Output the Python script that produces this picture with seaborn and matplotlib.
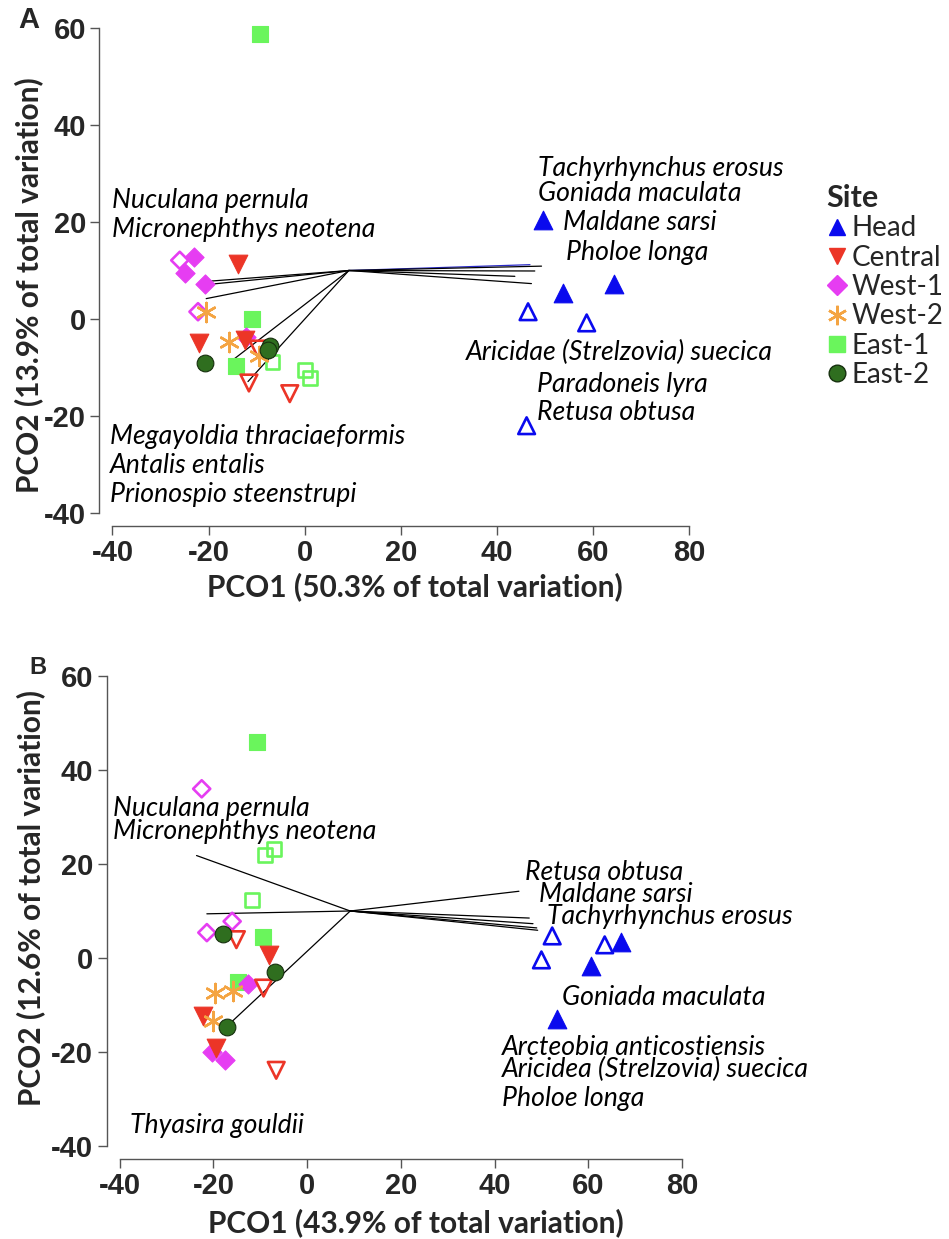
import matplotlib
matplotlib.use("Agg")
import matplotlib.pyplot as plt
import pandas as pd
import seaborn as sns
from matplotlib.lines import Line2D

sns.set_theme(style="ticks")
plt.rcParams["font.family"] = ["Liberation Sans", "DejaVu Sans"]

# ---------------------------------------------------------------- data
sites = ["Head", "Central", "West-1", "West-2", "East-1", "East-2"]

# Panel A: PCO scores per sample (filled = first survey, open = second survey)
a_site = (["Head"] * 6 + ["Central"] * 6 + ["West-1"] * 6 + ["West-2"] * 3
          + ["East-1"] * 6 + ["East-2"] * 3)
a_pco1 = [49.7, 53.7, 64.4, 46.5, 58.7, 46.2,
          -13.9, -21.9, -12.5, -9.7, -11.6, -3.1,
          -23.1, -25.0, -20.8, -12.2, -26.0, -22.2,
          -20.5, -15.8, -9.5,
          -9.4, -10.9, -14.2, -6.7, 0.0, 1.2,
          -7.3, -7.6, -20.8]
a_pco2 = [20.5, 5.4, 7.3, 1.5, -0.8, -22.0,
          11.4, -5.0, -4.3, -6.2, -13.2, -15.4,
          12.7, 9.4, 7.3, -3.8, 12.1, 1.5,
          1.5, -4.7, -7.7,
          58.7, 0.1, -9.7, -8.8, -10.6, -12.2,
          -5.5, -6.4, -9.1]
a_filled = ([1, 1, 1, 0, 0, 0] + [1, 1, 1, 0, 0, 0] + [1, 1, 1, 1, 0, 0]
            + [1, 1, 1] + [1, 1, 1, 0, 0, 0] + [1, 1, 1])

# Panel B: PCO scores per sample
b_site = a_site
b_pco1 = [66.9, 60.5, 53.4, 52.3, 63.5, 50.0,
          -8.2, -22.2, -19.5, -15.1, -9.3, -6.6,
          -12.6, -20.4, -17.6, -22.5, -16.0, -21.4,
          -19.7, -15.9, -20.0,
          -10.8, -9.5, -14.7, -7.1, -8.9, -11.7,
          -17.9, -6.9, -17.2]
b_pco2 = [3.3, -1.8, -13.0, 4.7, 2.8, -0.4,
          0.7, -12.4, -19.1, 3.9, -6.4, -23.9,
          -5.5, -19.9, -21.6, 36.0, 7.8, 5.4,
          -7.4, -7.1, -13.5,
          45.9, 4.5, -5.0, 23.2, 22.0, 12.3,
          5.2, -3.0, -14.6]
b_filled = ([1, 1, 1, 0, 0, 0] + [1, 1, 1, 0, 0, 0] + [1, 1, 1, 0, 0, 0]
            + [1, 1, 1] + [1, 1, 1, 0, 0, 0] + [1, 1, 1])

# Species correlation vectors (end points), drawn from a common origin
vec_origin = (9.2, 10.0)
a_vec_x = [-19.8, -20.3, -20.5, -14.9, -11.8, 46.9, 49.3, 47.9, 43.75, 47.2]
a_vec_y = [7.8, 7.1, 4.2, -8.4, -12.9, 11.2, 10.9, 9.9, 8.8, 7.3]
b_vec_x = [-23.6, -21.4, -17.2, 45.2, 47.4, 48.2, 49.0, 49.2]
b_vec_y = [21.8, 9.4, -14.6, 14.2, 8.5, 7.3, 6.4, 5.9]

# Species names and where they are written
a_species = ["Nuculana pernula", "Micronephthys neotena",
             "Megayoldia thraciaeformis", "Antalis entalis", "Prionospio steenstrupi",
             "Tachyrhynchus erosus", "Goniada maculata", "Maldane sarsi", "Pholoe longa",
             "Aricidae (Strelzovia) suecica", "Paradoneis lyra", "Retusa obtusa"]
a_species_xy = [(-40.2, 24.4), (-40.2, 18.5),
                (-40.6, -24.2), (-40.6, -30.2), (-40.6, -36.1),
                (48.5, 31.0), (48.5, 25.9), (53.75, 19.9), (54.4, 13.8),
                (33.5, -7.0), (48.3, -13.6), (48.3, -19.3)]
b_species = ["Nuculana pernula", "Micronephthys neotena",
             "Retusa obtusa", "Maldane sarsi", "Tachyrhynchus erosus",
             "Goniada maculata", "Arcteobia anticostiensis",
             "Aricidea (Strelzovia) suecica", "Pholoe longa", "Thyasira gouldii"]
b_species_xy = [(-41.4, 31.9), (-41.4, 26.9),
                (46.5, 18.2), (49.5, 13.5), (51.2, 8.9),
                (54.3, -8.5), (41.5, -19.1),
                (41.5, -23.8), (41.5, -29.8), (-37.8, -35.7)]

x_ticks = [-40, -20, 0, 20, 40, 60, 80]
y_ticks = [-40, -20, 0, 20, 40, 60]

# ---------------------------------------------------------------- styles
site_colors = {"Head": "#0a0aee", "Central": "#ec3527", "West-1": "#e63df2",
               "West-2": "#f4a442", "East-1": "#6af55c", "East-2": "#2f6e1f"}
site_markers = {"Head": "^", "Central": "v", "West-1": "D", "West-2": (6, 2, 0),
                "East-1": "s", "East-2": "o"}
site_sizes = {"Head": 180, "Central": 180, "West-1": 95, "West-2": 190,
              "East-1": 125, "East-2": 145}
draw_order = ["East-1", "West-1", "Central", "West-2", "East-2", "Head"]

ITALIC = dict(family="Lato", style="italic", size=19.2, color="black")
AXLAB = dict(family="Lato", weight="bold", size=21.5)


def scores_frame(site, pco1, pco2, filled):
    return pd.DataFrame({"site": site, "pco1": pco1, "pco2": pco2,
                         "filled": [bool(f) for f in filled]})


def draw_panel(ax, df, vx, vy, names, name_xy, xlabel, ylabel, tint_first_right=False):
    ox, oy = vec_origin
    n_left = sum(1 for v in vx if v < ox)
    for i, (ex, ey) in enumerate(zip(vx, vy)):
        col = "#2a2ac8" if (tint_first_right and i == n_left) else "black"
        ax.plot([ox, ex], [oy, ey], color=col, lw=0.9, zorder=2)

    for site in draw_order:
        for filled in (True, False):
            sub = df[(df["site"] == site) & (df["filled"] == filled)]
            if sub.empty:
                continue
            col = site_colors[site]
            kw = dict(data=sub, x="pco1", y="pco2", ax=ax, marker=site_markers[site],
                      s=site_sizes[site], legend=False, zorder=3, clip_on=False)
            if site == "West-2":
                sns.scatterplot(color=col, linewidth=1.8, **kw)
            elif filled:
                edge = "#16300e" if site == "East-2" else col
                sns.scatterplot(color=col, edgecolor=edge, linewidth=0.8, **kw)
            else:
                sns.scatterplot(color=col, linewidth=1.9,
                                **{**kw, "s": site_sizes[site] * 0.8})
                coll = ax.collections[-1]
                coll.set_facecolor("none")
                coll.set_edgecolor(col)

    for name, (tx, ty) in zip(names, name_xy):
        ax.text(tx, ty, name, ha="left", va="center", clip_on=False, zorder=4, **ITALIC)

    ax.set_xlim(-40, 80)
    ax.set_ylim(-40, 60)
    ax.set_xticks(x_ticks)
    ax.set_yticks(y_ticks)
    sns.despine(ax=ax, offset=9.5, trim=True)
    ax.set_xticks(x_ticks)
    ax.set_yticks(y_ticks)
    ax.set_xticklabels([str(t) for t in x_ticks], fontweight="bold",
                       family="Liberation Sans", fontsize=21)
    ax.set_yticklabels([str(t) for t in y_ticks], fontweight="bold",
                       family="Liberation Sans", fontsize=21)
    ax.tick_params(axis="both", which="major", direction="out", length=6.5, width=1.0,
                   color="#555555", pad=3)
    ax.set_xlabel(xlabel, **AXLAB)
    ax.set_ylabel(ylabel, **AXLAB)
    for sp in ("left", "bottom"):
        ax.spines[sp].set_color("#555555")
        ax.spines[sp].set_linewidth(1.0)


fig = plt.figure(figsize=(9.49, 12.39), dpi=100)
W, H = 949.0, 1239.0
axA = fig.add_axes([112.5 / W, 1 - 513 / H, 576.5 / W, 485 / H])
axB = fig.add_axes([119.7 / W, 1 - 1146 / H, 562.3 / W, 470 / H])
for ax in (axA, axB):
    ax.set_facecolor("none")

draw_panel(axA, scores_frame(a_site, a_pco1, a_pco2, a_filled), a_vec_x, a_vec_y,
           a_species, a_species_xy,
           "PCO1 (50.3% of total variation)", "PCO2 (13.9% of total variation)",
           tint_first_right=True)
draw_panel(axB, scores_frame(b_site, b_pco1, b_pco2, b_filled), b_vec_x, b_vec_y,
           b_species, b_species_xy,
           "PCO1 (43.9% of total variation)", "PCO2 (12.6% of total variation)")

axA.xaxis.set_label_coords(0.525, -0.122)
axA.yaxis.set_label_coords(-0.12, 0.47)
axB.xaxis.set_label_coords(0.527, -0.132)
axB.yaxis.set_label_coords(-0.133, 0.528)

fig.text(29 / W, 1 - 20 / H, "A", ha="center", va="center", weight="bold", size=21)
fig.text(38 / W, 1 - 668 / H, "B", ha="center", va="center", weight="bold", size=17)

# Site legend
handles = []
for site in sites:
    col = site_colors[site]
    if site == "West-2":
        handles.append(Line2D([], [], ls="none", marker=site_markers[site], color=col,
                              markersize=14, markeredgewidth=1.8))
    else:
        edge = "#16300e" if site == "East-2" else col
        handles.append(Line2D([], [], ls="none", marker=site_markers[site],
                              markerfacecolor=col, markeredgecolor=edge,
                              markersize=10 if site == "West-1" else 12))
leg = axA.legend(handles, sites, title="Site", loc="upper left",
                 bbox_to_anchor=(826 / W, 1 - 184 / H), bbox_transform=fig.transFigure,
                 frameon=False, alignment="left", borderpad=0, borderaxespad=0,
                 handlelength=0.8, handletextpad=0.12, labelspacing=0.12,
                 prop=dict(family="Lato", size=20),
                 title_fontproperties=dict(family="Lato", weight="bold", size=22))

fig.savefig("out.png", dpi=100, facecolor="white")
